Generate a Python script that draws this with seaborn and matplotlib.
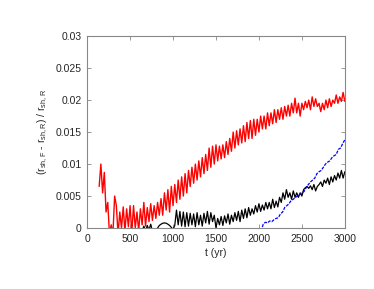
import numpy as np
import pandas as pd
import matplotlib
matplotlib.use('Agg')
import matplotlib.pyplot as plt
import seaborn as sns

# values in units of 1e-3, sampled every 20 yr
red_t0 = 140
red_vals = [
    6.5, 10.0, 5.5, 8.7, 2.5, 4.0, -1.0, 0.5, -1.0, 5.0,
    3.5, -1.0, 2.5, 0.0, 3.3, -0.5, 3.0, 0.2, 3.5, -0.8,
    3.5, 0.0, 2.5, -0.5, 3.0, 0.5, 4.0, 0.3, 3.2, 1.0,
    3.8, 1.2, 3.5, 1.5, 4.0, 2.0, 4.6, 2.0, 5.5, 2.8,
    6.0, 2.5, 6.5, 3.5, 6.8, 4.0, 7.5, 4.5, 8.0, 5.0,
    8.5, 5.5, 9.0, 6.5, 9.5, 7.0, 10.0, 7.5, 10.5, 8.0,
    11.0, 8.5, 11.5, 9.0, 12.5, 9.5, 12.8, 10.0, 13.0, 10.5,
    12.8, 10.8, 13.0, 11.0, 13.5, 11.5, 14.0, 12.0, 15.0, 12.5,
    15.2, 13.0, 15.5, 13.3, 16.0, 13.5, 16.5, 14.0, 16.8, 14.0,
    17.0, 14.5, 17.0, 15.0, 17.5, 15.5, 17.5, 15.5, 18.0, 16.0,
    18.0, 16.3, 18.5, 16.5, 18.5, 17.0, 18.8, 17.0, 19.0, 17.5,
    19.2, 17.5, 19.5, 18.0, 20.3, 18.0, 19.5, 17.5, 19.5, 18.5,
    19.8, 18.8, 20.0, 18.5, 20.5, 19.0, 20.2, 19.0, 19.5, 18.2,
    19.5, 18.5, 20.0, 18.8, 20.2, 19.0, 20.0, 19.5, 20.8, 19.5,
    20.5, 19.8, 21.2, 19.8,
]

black_t0 = 640
black_vals = [
    -0.5, 0.3, -0.5, 0.4, -0.3, 0.6, -0.5, -0.5, -0.3, 0.0,
    0.4, 0.6, 0.75, 0.8, 0.75, 0.6, 0.4, 0.1, -0.2, 0.4,
    2.8, 0.5, 2.6, 0.3, 2.5, 0.2, 2.4, 0.3, 2.3, 0.5,
    2.2, 0.2, 2.4, 0.5, 2.0, 0.3, 2.3, 0.8, 2.6, 0.6,
    2.4, 1.0, 2.0, 0.0, 1.5, 0.5, 1.8, 0.4, 1.9, 0.8,
    2.2, 0.6, 2.0, 1.0, 2.4, 1.2, 2.6, 1.0, 2.8, 1.5,
    3.0, 1.6, 3.2, 2.0, 3.0, 2.2, 3.5, 2.5, 3.8, 2.6,
    3.6, 2.8, 4.0, 3.0, 4.0, 3.0, 4.5, 3.2, 4.2, 3.3,
    4.8, 4.0, 5.5, 4.5, 6.0, 4.8, 5.5, 4.5, 5.8, 4.8,
    5.5, 4.8, 5.5, 5.0, 6.0, 6.3, 6.5, 6.2, 6.6, 6.0,
    6.8, 5.8, 6.5, 6.8, 7.2, 6.5, 7.5, 7.0, 7.8, 6.8,
    8.0, 7.2, 8.2, 7.5, 8.6, 7.8, 9.0, 7.8, 8.8,
]

# sampled every 25 yr
blue_t0 = 2025
blue_vals = [
    -0.5, 0.6, 0.9, 0.8, 1.1, 1.0, 1.3, 1.5, 1.6, 2.2,
    2.5, 3.2, 3.5, 3.8, 4.3, 4.5, 4.8, 5.0, 5.3, 5.5,
    5.7, 6.3, 6.8, 7.2, 7.5, 7.8, 8.5, 8.8, 9.0, 9.5,
    10.0, 10.3, 10.5, 11.0, 11.3, 11.5, 12.3, 12.5, 13.2, 13.8,
]

xticks = [0, 500, 1000, 1500, 2000, 2500, 3000]
yticks = [0, 0.005, 0.01, 0.015, 0.02, 0.025, 0.03]
ytick_labels = ['0', '0.005', '0.01', '0.015', '0.02', '0.025', '0.03']


def series(t0, step, vals):
    v = np.array(vals) * 1e-3
    return pd.DataFrame({'t': t0 + step * np.arange(len(v)), 'v': v})


sns.set_style('ticks')
plt.rcParams['font.family'] = ['Liberation Sans', 'DejaVu Sans']
plt.rcParams['mathtext.default'] = 'regular'

fig = plt.figure(figsize=(3.74, 2.89), dpi=100)
ax = fig.add_axes([0.233, 0.211, 0.689, 0.664])

sns.lineplot(data=series(red_t0, 20, red_vals), x='t', y='v', color='red',
             lw=1.0, sort=False, estimator=None, ax=ax)
sns.lineplot(data=series(black_t0, 20, black_vals), x='t', y='v', color='black',
             lw=0.9, sort=False, estimator=None, ax=ax)
sns.lineplot(data=series(blue_t0, 25, blue_vals), x='t', y='v', color='blue',
             lw=0.9, ls=(0, (2.5, 1.0)), sort=False, estimator=None, ax=ax)

ax.set_xlim(0, 3000)
ax.set_ylim(0, 0.03)
ax.set_xticks(xticks)
ax.set_yticks(yticks)
ax.set_yticklabels(ytick_labels)
ax.tick_params(direction='in', top=True, right=True, length=3, width=0.6,
               color='#888888', labelsize=7.5, pad=4)
for s in ax.spines.values():
    s.set_color('#888888')
    s.set_linewidth(0.8)

ax.set_xlabel('t (yr)', fontsize=7.5, labelpad=3)
ax.set_ylabel(r'$(r_{sh,F}$ - $r_{sh,R})$ / $r_{sh,R}$', fontsize=7.5, labelpad=4)

fig.savefig('out.png', dpi=100)
